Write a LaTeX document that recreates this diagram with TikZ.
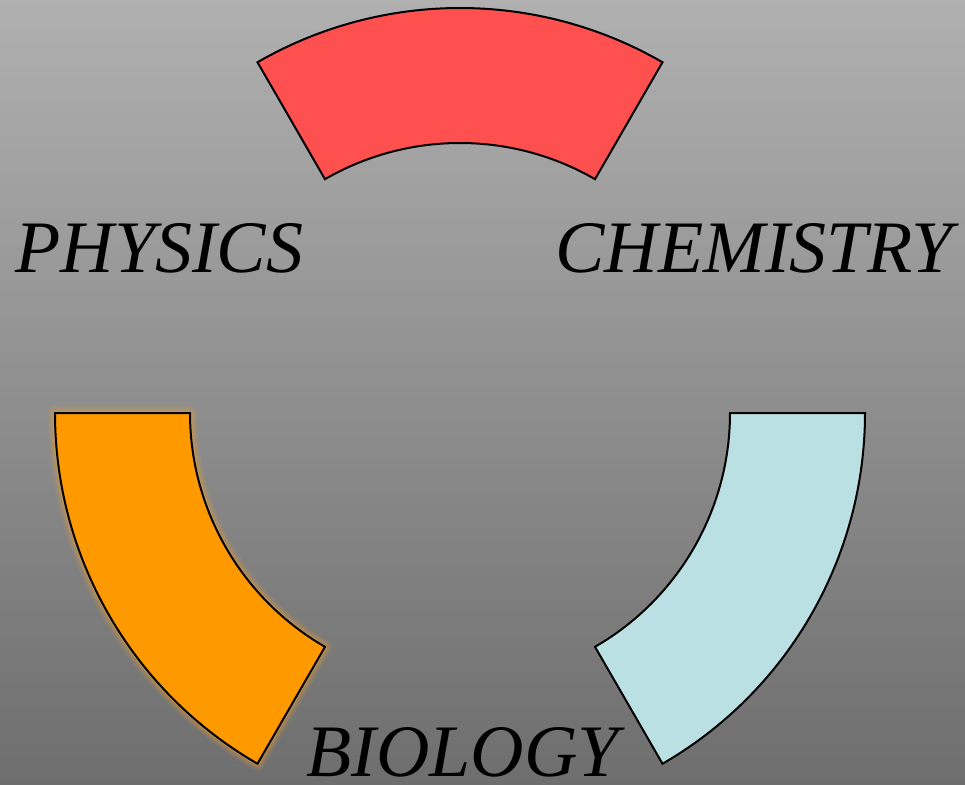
\documentclass[tikz,border=0pt]{standalone}
\usepackage{fontspec}
\setmainfont{Liberation Serif}
\definecolor{bgtop}{HTML}{B0B0B0}
\definecolor{bgbottom}{HTML}{6E6E6E}
\definecolor{sectred}{HTML}{FF5050}
\definecolor{sectorange}{HTML}{FF9900}
\definecolor{sectblue}{HTML}{BBE0E3}
\definecolor{sectglow}{HTML}{F0A030}
\tikzset{
    subject/.style={anchor=base west, inner sep=0pt, font=\fontsize{37}{44}\selectfont\itshape}
}
\begin{document}
\begin{tikzpicture}[x=0.5pt, y=0.5pt]
        \useasboundingbox (0,0) rectangle (965,784);
        \shade[top color=bgtop, bottom color=bgbottom] (0,0) rectangle (965,784);

        \begin{scope}[shift={(460,371)}]
            % soft glow round the orange band
            \foreach \w/\o in {14/0.12, 9/0.2, 4/0.4} {
                    \draw[sectglow, line width=\w*0.5pt, opacity=\o, line join=round]
                    (180:405) arc(180:240:405) -- (240:270) arc(240:180:270) -- cycle;
                }

            \foreach \a/\c in {60/sectred, 180/sectorange, 300/sectblue} {
                    \pgfmathtruncatemacro{\b}{\a+60}
                    \filldraw[fill=\c, draw=black, line width=1pt]
                    (\a:405) arc(\a:\b:405) -- (\b:270) arc(\b:\a:270) -- cycle;
                }
        \end{scope}

        \node[subject] (physics) at (15,511.5) {PHYSICS};
        \node[subject] (chemistry) at (555,511.5) {CHEMISTRY};
        \node[subject] (biology) at (306,8) {BIOLOGY};
    \end{tikzpicture}
\end{document}
